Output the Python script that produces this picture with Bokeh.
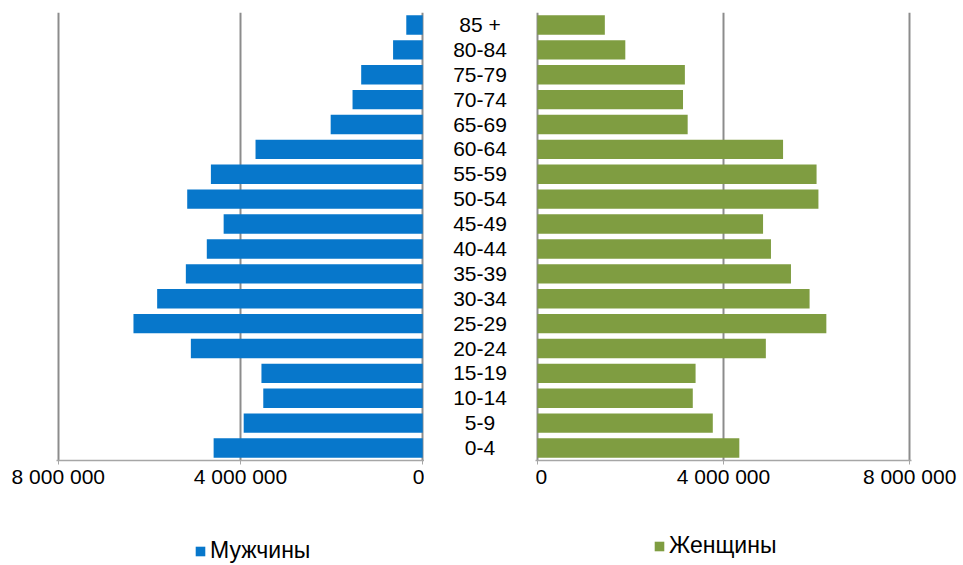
from bokeh.plotting import figure
from bokeh.layouts import row, column
from bokeh.models import Range1d, FactorRange, FixedTicker, Legend, LegendItem
from bokeh.core.properties import value
from bokeh.embed import file_html
from bokeh.resources import INLINE

categories = ["0-4", "5-9", "10-14", "15-19", "20-24", "25-29", "30-34", "35-39",
              "40-44", "45-49", "50-54", "55-59", "60-64", "65-69", "70-74",
              "75-79", "80-84", "85 +"]
male = [4590000, 3930000, 3500000, 3540000, 5090000, 6350000, 5830000, 5200000,
        4740000, 4370000, 5170000, 4650000, 3670000, 2020000, 1540000, 1350000,
        650000, 360000]
female = [4340000, 3770000, 3340000, 3400000, 4910000, 6210000, 5850000, 5450000,
          5020000, 4850000, 6040000, 6000000, 5280000, 3230000, 3130000, 3170000,
          1890000, 1450000]
tick_values = [0, 4000000, 8000000]
tick_labels = ["0", "4 000 000", "8 000 000"]
male_name = "Мужчины"
female_name = "Женщины"

FONT = "Liberation Sans"
BLUE = "#0777CB"
GREEN = "#7F9D41"
GRID = "#8C8C8C"
AXIS = "#A6A6A6"
FRAME_H = 448
TOP = 12
BOTTOM = 40
LEG_H = 64
PAD = 40000


def side(x_range, min_left, min_right, frame_w):
    p = figure(x_range=x_range, y_range=FactorRange(*categories, range_padding=0),
               frame_width=frame_w, frame_height=FRAME_H,
               output_backend="svg", toolbar_location=None)
    p.min_border = 0
    p.min_border_top = TOP
    p.min_border_bottom = BOTTOM
    p.min_border_left = min_left
    p.min_border_right = min_right
    p.outline_line_color = None
    p.yaxis.visible = False
    p.ygrid.grid_line_color = None
    ax = p.xaxis[0]
    ax.ticker = FixedTicker(ticks=tick_values)
    ax.major_label_overrides = {v: l for v, l in zip(tick_values, tick_labels)}
    ax.minor_tick_line_color = None
    ax.major_tick_in = 0
    ax.major_tick_out = 4
    ax.major_tick_line_color = AXIS
    ax.axis_line_color = AXIS
    ax.axis_line_width = 1.5
    ax.major_label_standoff = 0
    ax.major_label_text_font = FONT
    ax.major_label_text_font_size = "21px"
    ax.major_label_text_color = "#000000"
    p.xgrid.ticker = FixedTicker(ticks=tick_values)
    p.xgrid.grid_line_color = GRID
    p.xgrid.grid_line_width = 2
    return p


def legend_fig(width, name, color, loc):
    f = figure(x_range=Range1d(0, 1), y_range=Range1d(0, 1),
               frame_width=width, frame_height=LEG_H,
               output_backend="svg", toolbar_location=None)
    f.min_border = 0
    f.outline_line_color = None
    f.axis.visible = False
    f.grid.grid_line_color = None
    # off-screen swatch renderer, only used to draw the legend square
    r = f.hbar(y=[-10], left=[-10], right=[-10], height=1,
               fill_color=color, line_color=None)
    leg = Legend(items=[LegendItem(label=name, renderers=[r])],
                 location=loc, orientation="horizontal",
                 label_text_font=FONT, label_text_font_size="23px",
                 label_text_color="#000000", glyph_width=12, glyph_height=12,
                 label_height=24, label_standoff=4, padding=0, margin=0,
                 spacing=0, border_line_color=None, background_fill_alpha=0)
    f.add_layout(leg, "center")
    return f


pl = side(Range1d(8000000 + PAD, -PAD), 56, 0, 368)
pl.hbar(y=categories, left=0, right=male, height=0.78,
        fill_color=BLUE, line_color=None)

pm = figure(x_range=Range1d(-1, 1), y_range=FactorRange(*categories, range_padding=0),
            frame_width=111, frame_height=FRAME_H,
            output_backend="svg", toolbar_location=None)
pm.min_border = 0
pm.min_border_top = TOP
pm.min_border_bottom = BOTTOM
pm.outline_line_color = None
pm.xaxis.visible = False
pm.yaxis.visible = False
pm.grid.grid_line_color = None
pm.text(x=0, y=categories, text=categories, text_align="center",
        text_baseline="middle", text_font=value(FONT),
        text_font_size="21px", text_color="#000000")

pr = side(Range1d(-PAD, 8000000 + PAD), 0, 50, 376)
pr.hbar(y=categories, left=0, right=female, height=0.78,
        fill_color=GREEN, line_color=None)

legL = legend_fig(480, male_name, BLUE, (194, 0))
legR = legend_fig(481, female_name, GREEN, (173, 5))

layout = column(row(pl, pm, pr, spacing=0), row(legL, legR, spacing=0), spacing=0)
open("out.html", "w").write(file_html(layout, INLINE))
